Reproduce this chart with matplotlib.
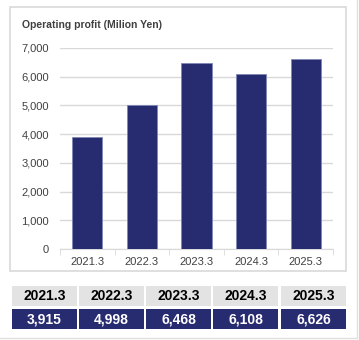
import matplotlib
matplotlib.use("Agg")
import matplotlib.pyplot as plt
from matplotlib.patches import Rectangle

# data
years = ["2021.3", "2022.3", "2023.3", "2024.3", "2025.3"]
profit = [3915, 4998, 6468, 6108, 6626]
yticks = [0, 1000, 2000, 3000, 4000, 5000, 6000, 7000]

navy = "#272b70"
W, H = 359, 340

plt.rcParams['font.family'] = ['Liberation Sans', 'DejaVu Sans']

fig = plt.figure(figsize=(W / 100, H / 100), dpi=100)
fig.patch.set_facecolor("white")

def px(x, y, w, h):
    # pixel box (top-left origin) -> figure fraction
    return [x / W, 1 - (y + h) / H, w / W, h / H]

# outer chart frame
fig.patches.append(Rectangle((10 / W, 1 - 271 / H), 336 / W, 264 / H,
                             transform=fig.transFigure, fill=False,
                             edgecolor="#d9d9d9", lw=1.2))
# page edges
fig.add_artist(plt.Line2D([357 / W, 357 / W], [1 - 338 / H, 1], transform=fig.transFigure,
                          color="#e0e0e0", lw=1))
fig.add_artist(plt.Line2D([0, 357 / W], [1 - 338 / H, 1 - 338 / H], transform=fig.transFigure,
                          color="#e0e0e0", lw=1))

fig.text(22 / W, 1 - 25 / H, "Operating profit (Milion Yen)", fontsize=7.5,
         fontweight="bold", color="#404040", va="center", ha="left")

ax = fig.add_axes(px(60, 48, 273, 201))
x = list(range(len(years)))
ax.bar(x, profit, width=0.55, color=navy, edgecolor="#8088b8", linewidth=0.6, zorder=3)
ax.set_xlim(-0.5, len(years) - 0.5)
ax.set_ylim(0, 7000)
ax.set_yticks(yticks)
ax.set_yticklabels([f"{v:,}" for v in yticks])
ax.yaxis.grid(True, color="#d9d9d9", lw=1)
ax.tick_params(axis="y", length=0, pad=8, labelsize=8, labelcolor="#404040")
ax.set_xticks(x)
ax.set_xticklabels(years)
ax.tick_params(axis="x", length=0, pad=6, labelsize=8, labelcolor="#404040")
ax.set_xticks([i - 0.5 for i in range(len(years) + 1)], minor=True)
ax.tick_params(axis="x", which="minor", length=4, color="#d9d9d9")
for s in ["top", "right", "left"]:
    ax.spines[s].set_visible(False)
ax.spines["bottom"].set_color("#d9d9d9")

# table below chart
col_x = [12, 79, 146, 213, 281]
col_w = 65
for cx, yr, v in zip(col_x, years, profit):
    fig.patches.append(Rectangle((cx / W, 1 - 306 / H), col_w / W, 20 / H,
                                 transform=fig.transFigure, facecolor="#e3e3e3", edgecolor="none"))
    fig.patches.append(Rectangle((cx / W, 1 - 329 / H), col_w / W, 20 / H,
                                 transform=fig.transFigure, facecolor=navy, edgecolor="none"))
    fig.text((cx + col_w / 2) / W, 1 - 296 / H, yr, fontsize=10, fontweight="bold",
             color="black", ha="center", va="center")
    fig.text((cx + col_w / 2) / W, 1 - 319 / H, f"{v:,}", fontsize=10, fontweight="bold",
             color="white", ha="center", va="center")

fig.savefig("out.png", dpi=100)
